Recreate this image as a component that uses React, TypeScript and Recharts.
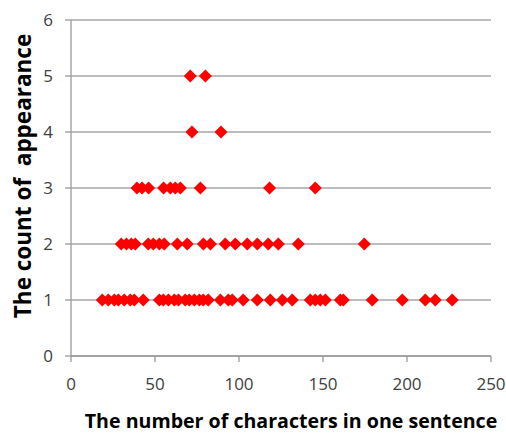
import { ScatterChart, Scatter, XAxis, YAxis, CartesianGrid } from "recharts"

// sentence lengths (characters) grouped by how often they appear
const countOne = [
  18.6, 22.2, 25.8, 28.2, 31.7, 35.3, 37.7, 43, 52.6, 55, 58, 61.5, 64, 68, 70.4,
  73.4, 76.4, 78.7, 81.7, 88.9, 93.6, 96, 102.5, 110.9, 118.6, 125.8, 131.7,
  142.4, 145.4, 148.4, 151.4, 160.3, 162.1, 179.3, 197.2, 210.9, 216.8, 226.9,
]
const countTwo = [
  29.9, 33, 35.9, 38.3, 46, 49, 52.6, 55.5, 63.3, 69.2, 78.8, 83, 91.8, 97.8,
  104.9, 110.9, 117.4, 123.4, 135.3, 174.6,
]
const countThree = [39.3, 42.3, 46.2, 55.1, 59.1, 62.1, 65.1, 77, 118.2, 145.4]
const countFour = [72, 89.3]
const countFive = [71, 80]

const xTicks = [0, 50, 100, 150, 200, 250]
const yTicks = [0, 1, 2, 3, 4, 5, 6]

const groups = [countOne, countTwo, countThree, countFour, countFive]
const data = groups.flatMap((xs, i) => xs.map((x) => ({ x, y: i + 1 })))

const font = "'Open Sans', sans-serif"

// square-ish red diamond like the Excel marker
const Diamond = (props: any) => {
  const { cx, cy } = props
  const r = 6.5
  return (
    <polygon
      points={`${cx},${cy - r} ${cx + r},${cy} ${cx},${cy + r} ${cx - r},${cy}`}
      fill="#ff0000"
    />
  )
}

// rotated y title, drawn by hand so the double space survives
const YTitle = (props: any) => {
  const vb = props.viewBox
  const cx = 31
  const cy = vb.y + vb.height / 2 - 12
  return (
    <text
      x={cx}
      y={cy}
      transform={`rotate(-90 ${cx} ${cy})`}
      textAnchor="middle"
      fill="#000"
      fontSize={22.5}
      fontWeight="bold"
      fontFamily={font}
      style={{ whiteSpace: "pre" }}
    >
      The count of  appearance
    </text>
  )
}

export default function App() {
  return (
    <div style={{ position: "absolute", left: 0, top: 0, width: 506, height: 434, background: "#fff" }}>
      <ScatterChart width={506} height={434} margin={{ top: 20, right: 15, bottom: 0, left: 0 }}>
        <CartesianGrid vertical={false} stroke="#a6a6a6" strokeWidth={1.3} />
        <XAxis
          type="number"
          dataKey="x"
          domain={[0, 250]}
          ticks={xTicks}
          height={78}
          stroke="#9a9a9a"
          strokeWidth={1.3}
          tickSize={6}
          tickMargin={16}
          tick={{ fill: "#404040", fontSize: 17, fontFamily: font }}
          label={{
            value: "The number of characters in one sentence",
            position: "insideBottom",
            offset: 6,
            fill: "#000",
            fontSize: 19.6,
            fontWeight: "bold",
            fontFamily: font,
            dx: 10,
          }}
        />
        <YAxis
          type="number"
          dataKey="y"
          domain={[0, 6]}
          ticks={yTicks}
          width={71}
          stroke="#9a9a9a"
          strokeWidth={1.3}
          tickSize={6}
          tickMargin={12}
          tick={{ fill: "#404040", fontSize: 17, fontFamily: font }}
          label={{ content: YTitle }}
        />
        <Scatter data={data} shape={Diamond} isAnimationActive={false} />
      </ScatterChart>
    </div>
  )
}
